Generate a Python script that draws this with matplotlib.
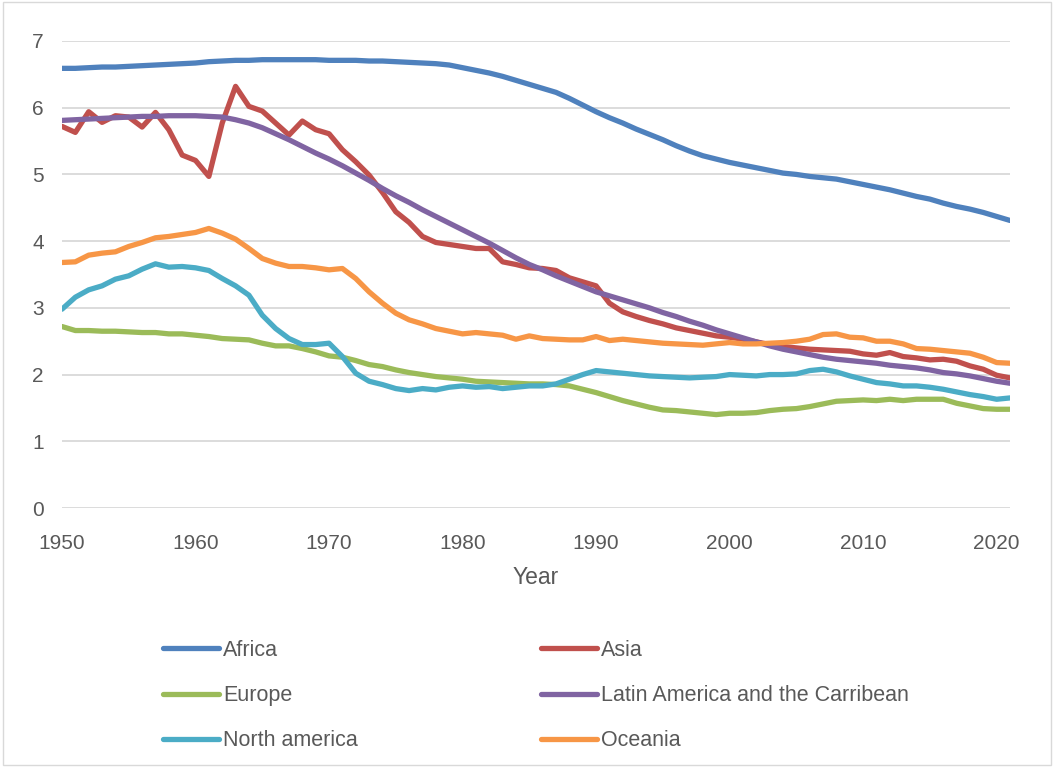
import matplotlib
matplotlib.use("Agg")
import matplotlib.pyplot as plt
from matplotlib.patches import Rectangle

# total fertility rate by region, 1950-2021
years = list(range(1950, 2022))

africa = [6.59, 6.59, 6.60, 6.61, 6.61, 6.62, 6.63, 6.64, 6.65, 6.66,
          6.67, 6.69, 6.70, 6.71, 6.71, 6.72, 6.72, 6.72, 6.72, 6.72,
          6.71, 6.71, 6.71, 6.70, 6.70, 6.69, 6.68, 6.67, 6.66, 6.64,
          6.60, 6.56, 6.52, 6.47, 6.41, 6.35, 6.29, 6.23, 6.14, 6.04,
          5.94, 5.85, 5.77, 5.68, 5.60, 5.52, 5.43, 5.35, 5.28, 5.23,
          5.18, 5.14, 5.10, 5.06, 5.02, 5.00, 4.97, 4.95, 4.93, 4.89,
          4.85, 4.81, 4.77, 4.72, 4.67, 4.63, 4.57, 4.52, 4.48, 4.43,
          4.37, 4.31]

asia = [5.72, 5.63, 5.94, 5.78, 5.88, 5.86, 5.71, 5.93, 5.67, 5.29,
        5.21, 4.97, 5.77, 6.32, 6.02, 5.95, 5.77, 5.59, 5.80, 5.67,
        5.61, 5.37, 5.19, 4.99, 4.73, 4.44, 4.28, 4.07, 3.98, 3.95,
        3.92, 3.89, 3.89, 3.69, 3.65, 3.60, 3.59, 3.56, 3.45, 3.39,
        3.33, 3.07, 2.94, 2.87, 2.81, 2.76, 2.70, 2.66, 2.62, 2.58,
        2.56, 2.53, 2.49, 2.45, 2.42, 2.40, 2.38, 2.37, 2.36, 2.35,
        2.31, 2.29, 2.33, 2.27, 2.25, 2.22, 2.23, 2.20, 2.13, 2.08,
        1.99, 1.95]

europe = [2.72, 2.66, 2.66, 2.65, 2.65, 2.64, 2.63, 2.63, 2.61, 2.61,
          2.59, 2.57, 2.54, 2.53, 2.52, 2.47, 2.43, 2.43, 2.39, 2.34,
          2.28, 2.26, 2.21, 2.15, 2.12, 2.07, 2.03, 2.00, 1.97, 1.95,
          1.93, 1.90, 1.89, 1.88, 1.87, 1.86, 1.86, 1.85, 1.83, 1.78,
          1.73, 1.67, 1.61, 1.56, 1.51, 1.47, 1.46, 1.44, 1.42, 1.40,
          1.42, 1.42, 1.43, 1.46, 1.48, 1.49, 1.52, 1.56, 1.60, 1.61,
          1.62, 1.61, 1.63, 1.61, 1.63, 1.63, 1.63, 1.57, 1.53, 1.49,
          1.48, 1.48]

latin_america = [5.81, 5.82, 5.83, 5.84, 5.85, 5.86, 5.87, 5.87, 5.88, 5.88,
                 5.88, 5.87, 5.86, 5.82, 5.77, 5.70, 5.61, 5.52, 5.42, 5.32,
                 5.23, 5.13, 5.02, 4.91, 4.79, 4.68, 4.58, 4.47, 4.37, 4.27,
                 4.17, 4.07, 3.97, 3.86, 3.75, 3.65, 3.57, 3.48, 3.40, 3.32,
                 3.24, 3.18, 3.12, 3.06, 3.00, 2.93, 2.87, 2.80, 2.74, 2.67,
                 2.61, 2.55, 2.49, 2.43, 2.38, 2.34, 2.30, 2.26, 2.23, 2.21,
                 2.19, 2.17, 2.14, 2.12, 2.10, 2.07, 2.03, 2.01, 1.98, 1.94,
                 1.90, 1.87]

north_america = [2.98, 3.16, 3.27, 3.33, 3.43, 3.48, 3.58, 3.66, 3.61, 3.62,
                 3.60, 3.56, 3.44, 3.33, 3.19, 2.89, 2.69, 2.54, 2.45, 2.45,
                 2.47, 2.27, 2.02, 1.90, 1.85, 1.79, 1.76, 1.79, 1.77, 1.81,
                 1.83, 1.81, 1.82, 1.79, 1.81, 1.83, 1.83, 1.86, 1.93, 2.00,
                 2.06, 2.04, 2.02, 2.00, 1.98, 1.97, 1.96, 1.95, 1.96, 1.97,
                 2.00, 1.99, 1.98, 2.00, 2.00, 2.01, 2.06, 2.08, 2.04, 1.98,
                 1.93, 1.88, 1.86, 1.83, 1.83, 1.81, 1.78, 1.74, 1.70, 1.67,
                 1.63, 1.65]

oceania = [3.68, 3.69, 3.79, 3.82, 3.84, 3.92, 3.98, 4.05, 4.07, 4.10,
           4.13, 4.19, 4.12, 4.03, 3.89, 3.74, 3.67, 3.62, 3.62, 3.60,
           3.57, 3.59, 3.44, 3.24, 3.07, 2.92, 2.82, 2.76, 2.69, 2.65,
           2.61, 2.63, 2.61, 2.59, 2.53, 2.58, 2.54, 2.53, 2.52, 2.52,
           2.57, 2.51, 2.53, 2.51, 2.49, 2.47, 2.46, 2.45, 2.44, 2.46,
           2.48, 2.46, 2.46, 2.47, 2.48, 2.50, 2.53, 2.60, 2.61, 2.56,
           2.55, 2.50, 2.50, 2.46, 2.39, 2.38, 2.36, 2.34, 2.32, 2.26,
           2.18, 2.17]

series = [
    ("Africa", africa, "#4F81BD"),
    ("Asia", asia, "#C0504D"),
    ("Europe", europe, "#9BBB59"),
    ("Latin America and the Carribean", latin_america, "#8064A2"),
    ("North america", north_america, "#4BACC6"),
    ("Oceania", oceania, "#F79646"),
]

plt.rcParams['font.family'] = ['Liberation Sans', 'DejaVu Sans']
text_col = "#595959"

fig = plt.figure(figsize=(10.56, 7.67), dpi=100)
ax = fig.add_axes([62 / 1056, 1 - 508 / 767, 948 / 1056, 467 / 767])

lines = {}
for name, vals, col in series:
    ln, = ax.plot(years, vals, color=col, lw=3.8, label=name,
                  solid_capstyle='round', solid_joinstyle='round')
    lines[name] = ln

ax.set_xlim(1950, 2021)
ax.set_ylim(0, 7)
ax.set_xticks(range(1950, 2021, 10))
ax.set_yticks(range(0, 8))
ax.grid(axis='y', color='#D9D9D9', lw=1.3)
ax.set_axisbelow(True)
for s in ax.spines.values():
    s.set_visible(False)
ax.tick_params(length=0, labelsize=15, colors=text_col)
ax.tick_params(axis='y', pad=13)
ax.tick_params(axis='x', pad=19)
ax.set_xlabel("Year", fontsize=16.5, color=text_col, labelpad=9)

order = ["Africa", "Europe", "North america",
         "Asia", "Latin America and the Carribean", "Oceania"]
fig.legend([lines[n] for n in order], order, ncol=2, frameon=False,
           loc='upper left', bbox_to_anchor=(163 / 1056, 1 - 640 / 767),
           borderaxespad=0, borderpad=0, fontsize=15.5, labelcolor=text_col,
           handlelength=2.6, handletextpad=0.2, columnspacing=8.5,
           labelspacing=1.12)

# thin chart-area border
fig.patches.append(Rectangle((3 / 1056, 2 / 767), 1048 / 1056, 763 / 767,
                             transform=fig.transFigure, fill=False,
                             edgecolor='#D9D9D9', lw=1))

fig.savefig("out.png", dpi=100)
